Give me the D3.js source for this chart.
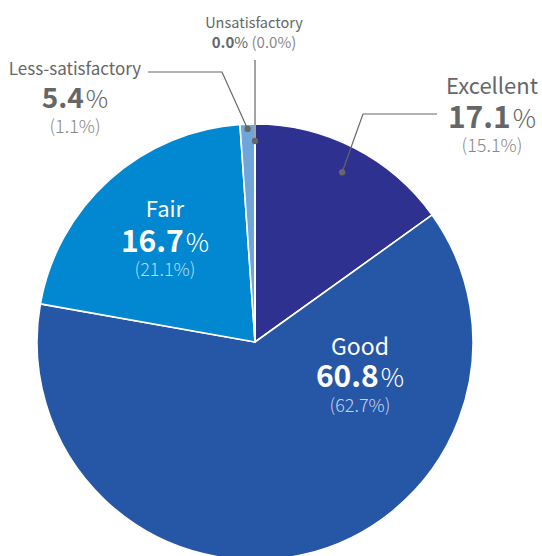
<!DOCTYPE html>
<html><head><meta charset="utf-8">
<script src="https://cdn.jsdelivr.net/npm/d3@7"></script>
<style>
html,body{margin:0;padding:0;background:#fff;}
svg{display:block;font-family:"Noto Sans CJK KR","Noto Sans",sans-serif;}
</style></head>
<body>
<svg id="c" width="542" height="556"></svg>
<script>
const categories = ["Excellent", "Good", "Fair", "Less-satisfactory", "Unsatisfactory"];
const shareValues = [15.1, 62.7, 21.1, 1.1, 0.0];      // slice sizes (in parentheses)
const headlineValues = [17.1, 60.8, 16.7, 5.4, 0.0];   // large figures
const colors = ["#2e3190", "#2656a6", "#0288d1", "#6fa6da", "#9cc4e8"];

const svg = d3.select("#c");
const cx = 255, cy = 342, R = 218;
const g = svg.append("g").attr("transform", `translate(${cx},${cy})`);

const pie = d3.pie().sort(null).value(d => d).startAngle(0).endAngle(2 * Math.PI);
const arcs = pie(shareValues);
const arc = d3.arc().innerRadius(0).outerRadius(R);

g.selectAll("path.slice").data(arcs).enter().append("path")
  .attr("class", "slice")
  .attr("d", arc)
  .attr("fill", (d, i) => colors[i])
  .attr("stroke", "#fff")
  .attr("stroke-width", 1.6)
  .attr("stroke-linejoin", "round");

const gray = "#666";
function pt(a, r) { return [cx + r * Math.sin(a), cy - r * Math.cos(a)]; }
const mid = d => (d.startAngle + d.endAngle) / 2;

function label(i, x, y0, opts) {
  svg.append("text").attr("text-anchor", "middle").attr("x", x).attr("y", y0)
    .attr("font-size", opts.nameSize).attr("fill", opts.nameFill).text(categories[i]);
  const t2 = svg.append("text").attr("text-anchor", "middle").attr("x", x).attr("y", y0 + opts.dy1);
  t2.append("tspan").attr("font-size", opts.numSize).attr("font-weight", "bold")
    .attr("fill", opts.numFill).text(headlineValues[i].toFixed(1));
  t2.append("tspan").attr("font-size", opts.pctSize).attr("font-weight", 300)
    .attr("fill", opts.pctFill).attr("dx", 2).text("%");
  svg.append("text").attr("text-anchor", "middle").attr("x", x).attr("y", y0 + opts.dy2)
    .attr("font-size", opts.parSize).attr("font-weight", 300).attr("fill", opts.parFill)
    .text(`(${shareValues[i].toFixed(1)}%)`);
}

// Inside labels
label(1, 360, 355, {nameSize: 23, nameFill: "#fff", dy1: 32, numSize: 30, numFill: "#fff",
  pctSize: 26, pctFill: "#fff", dy2: 57, parSize: 18, parFill: "#c4d3ec"});
label(2, 165, 217, {nameSize: 22, nameFill: "#fff", dy1: 35, numSize: 30, numFill: "#fff",
  pctSize: 26, pctFill: "#fff", dy2: 59, parSize: 18, parFill: "#b6dcf3"});

// Excellent outside
label(0, 492, 94, {nameSize: 22, nameFill: gray, dy1: 34, numSize: 30, numFill: gray,
  pctSize: 26, pctFill: gray, dy2: 58, parSize: 18, parFill: "#888"});
// Less-satisfactory outside
label(3, 75, 75, {nameSize: 17, nameFill: gray, dy1: 33, numSize: 28, numFill: gray,
  pctSize: 25, pctFill: gray, dy2: 58, parSize: 18, parFill: "#888"});

// Unsatisfactory (two lines)
svg.append("text").attr("text-anchor", "middle").attr("x", 254).attr("y", 28)
  .attr("font-size", 14.5).attr("fill", gray).text(categories[4]);
const tu = svg.append("text").attr("text-anchor", "middle").attr("x", 254).attr("y", 48)
  .attr("font-size", 15).attr("fill", "#888");
tu.append("tspan").attr("font-weight", "bold").attr("fill", gray).text(headlineValues[4].toFixed(1));
tu.append("tspan").attr("fill", gray).text("%");
tu.append("tspan").text(` (${shareValues[4].toFixed(1)}%)`);

// Leaders
const leaders = [
  {i: 0, r: 0.875 * R, path: [[363, 114], [437, 114]]},
  {i: 3, r: 0.978 * R, path: [[222, 72], [148, 72]]},
  {i: 4, r: 0.922 * R, path: [[255, 60]]}
];
leaders.forEach(L => {
  const p0 = pt(mid(arcs[L.i]), L.r);
  const pts = [p0].concat(L.path);
  svg.append("path").attr("d", d3.line()(pts)).attr("fill", "none")
    .attr("stroke", gray).attr("stroke-width", 1.2);
  svg.append("circle").attr("cx", p0[0]).attr("cy", p0[1]).attr("r", 3.2).attr("fill", gray);
});
</script>
</body></html>
